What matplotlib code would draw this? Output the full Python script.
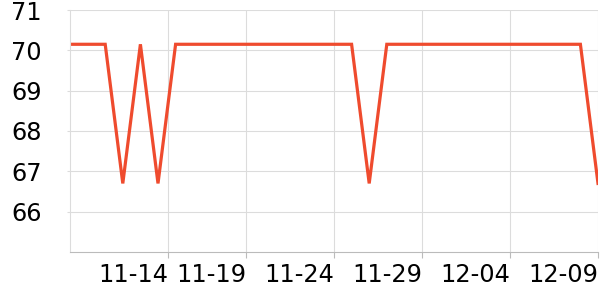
import numpy as np
import pandas as pd
import matplotlib
matplotlib.use("Agg")
import matplotlib.pyplot as plt
import matplotlib.dates as mdates

dates = pd.date_range("2023-11-09", "2023-12-09", freq="D")
values = [70.15, 70.15, 70.15, 66.7, 70.15, 66.7, 70.15, 70.15, 70.15, 70.15,
          70.15, 70.15, 70.15, 70.15, 70.15, 70.15, 70.15, 66.7, 70.15, 70.15,
          70.15, 70.15, 70.15, 70.15, 70.15, 70.15, 70.15, 70.15, 70.15, 70.15,
          66.7]
# first tick in the reference sits a bit past midnight
tick_dates = pd.to_datetime(["2023-11-14 14:00", "2023-11-19 00:00", "2023-11-24 00:00",
                             "2023-11-29 00:00", "2023-12-04 00:00", "2023-12-09 00:00"])
y_ticks = [66, 67, 68, 69, 70, 71]

fig = plt.figure(figsize=(6, 3), dpi=100)
ax = fig.add_axes([70 / 600, 48 / 300, 528 / 600, 242 / 300])

ax.plot(dates, values, color="#ef4b2e", lw=2.3, solid_joinstyle="miter")

ax.set_xlim(dates[0], dates[-1])
ax.set_ylim(65, 71)
ax.set_yticks(y_ticks)
ax.set_xticks(tick_dates)
ax.xaxis.set_major_formatter(mdates.DateFormatter("%m-%d"))
for lbl in ax.get_xticklabels():
    lbl.set_ha("right")

ax.grid(True, color="#dcdcdc", lw=0.8)
ax.set_axisbelow(True)
for s in ["top", "right"]:
    ax.spines[s].set_visible(False)
ax.spines["left"].set_color("#dcdcdc")
ax.spines["left"].set_linewidth(0.8)
ax.spines["bottom"].set_color("#bbbbbb")
ax.spines["bottom"].set_linewidth(0.8)

ax.tick_params(axis="x", colors="#bbbbbb", length=4, width=0.8,
               labelsize=17.3, labelcolor="black", pad=4)
ax.tick_params(axis="y", colors="#dcdcdc", length=2, width=0.8,
               labelsize=17.3, labelcolor="black", pad=18.5)

fig.savefig("out.png", dpi=100)
